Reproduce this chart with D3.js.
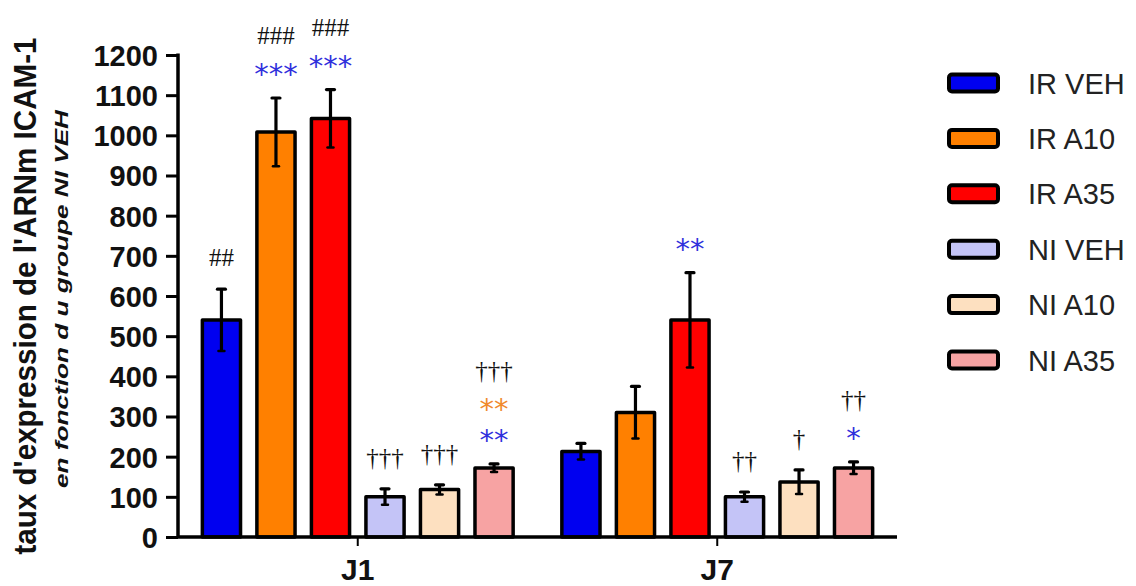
<!DOCTYPE html>
<html>
<head>
<meta charset="utf-8">
<script src="https://cdn.jsdelivr.net/npm/d3@7"></script>
<style>
  html, body { margin: 0; padding: 0; background: #fff; }
  svg { display: block; }
</style>
</head>
<body>
<svg id="chart" width="1136" height="586"></svg>
<script>
// ICAM-1 mRNA expression, relative to the NI VEH group
const groups = ["J1", "J7"];
const series = ["IR VEH", "IR A10", "IR A35", "NI VEH", "NI A10", "NI A35"];
const seriesColors = ["#0000f0", "#ff8000", "#ff0000", "#c4c4f7", "#fde0c0", "#f7a3a3"];

const meanJ1 = [540, 1008, 1042, 100, 118, 172];
const meanJ7 = [213, 310, 540, 100, 137, 172];
const semJ1 = [77, 85, 72, 20, 12, 10];
const semJ7 = [20, 65, 118, 12, 30, 15];

const yTicks = [0, 100, 200, 300, 400, 500, 600, 700, 800, 900, 1000, 1100, 1200];

// significance marks stacked above each bar, listed from bottom to top: [text, kind]
const marksJ1 = [
  [["##", "k"]],
  [["***", "b"], ["###", "k"]],
  [["***", "b"], ["###", "k"]],
  [["†††", "k"]],
  [["†††", "k"]],
  [["**", "b"], ["**", "o"], ["†††", "k"]]
];
const marksJ7 = [
  [],
  [],
  [["**", "b"]],
  [["††", "k"]],
  [["†", "k"]],
  [["*", "b"], ["††", "k"]]
];
const markColors = { k: "#111", b: "#3030dc", o: "#f08a2c" };

const means = [meanJ1, meanJ7];
const sems = [semJ1, semJ7];
const marks = [marksJ1, marksJ7];

const rows = [];
groups.forEach((g, gi) => {
  series.forEach((s, si) => {
    rows.push({ group: g, series: s, si, mean: means[gi][si], sem: sems[gi][si], marks: marks[gi][si] });
  });
});

const svg = d3.select("#chart");
const plot = { left: 178, right: 897, top: 55, bottom: 537 };

const y = d3.scaleLinear().domain([0, 1200]).range([plot.bottom, plot.top]);
const x0 = d3.scaleBand().domain(groups).range([plot.left, plot.right]).paddingInner(0.09).paddingOuter(0.045);
const x1 = d3.scaleBand().domain(series).range([0, x0.bandwidth()]).paddingInner(0.3).paddingOuter(0.15);
const color = d3.scaleOrdinal().domain(series).range(seriesColors);

// bars
const bar = svg.append("g").selectAll("g").data(rows).join("g")
  .attr("transform", d => `translate(${x0(d.group) + x1(d.series)},0)`);

bar.append("rect")
  .attr("x", 0)
  .attr("width", x1.bandwidth())
  .attr("y", d => y(d.mean))
  .attr("height", d => y(0) - y(d.mean))
  .attr("fill", d => color(d.series))
  .attr("stroke", "#000")
  .attr("stroke-width", 3.5)
  .attr("stroke-linejoin", "round");

// error bars
const cx = x1.bandwidth() / 2;
bar.append("line")
  .attr("x1", cx).attr("x2", cx)
  .attr("y1", d => y(d.mean - d.sem))
  .attr("y2", d => y(d.mean + d.sem))
  .attr("stroke", "#000").attr("stroke-width", 3.2);
bar.append("line")
  .attr("x1", cx - 4).attr("x2", cx + 4)
  .attr("y1", d => y(d.mean + d.sem))
  .attr("y2", d => y(d.mean + d.sem))
  .attr("stroke", "#000").attr("stroke-width", 3.2).attr("stroke-linecap", "round");
bar.append("line")
  .attr("x1", cx - 3).attr("x2", cx + 3)
  .attr("y1", d => y(d.mean - d.sem))
  .attr("y2", d => y(d.mean - d.sem))
  .attr("stroke", "#000").attr("stroke-width", 2.5).attr("stroke-linecap", "round");

// significance marks
bar.each(function(d) {
  const top = y(d.mean + d.sem);
  d3.select(this).selectAll("text.mark").data(d.marks).join("text")
    .attr("class", "mark")
    .attr("x", cx)
    .attr("y", (m, i) => {
      const centre = top - 31 - i * 31;
      return m[1] === "k" ? centre + 8 : centre + 17;
    })
    .attr("text-anchor", "middle")
    .attr("fill", m => markColors[m[1]])
    .style("font-family", m => m[1] === "k" ? "'Liberation Serif', serif" : "'DejaVu Sans', sans-serif")
    .style("font-size", m => m[1] === "k" ? "25px" : "29px")
    .text(m => m[0]);
});

// y axis
const yAxis = svg.append("g")
  .attr("transform", `translate(${plot.left},0)`)
  .call(d3.axisLeft(y).tickValues(yTicks).tickFormat(d3.format("d")).tickSize(12).tickPadding(8).tickSizeOuter(0));
yAxis.select(".domain").attr("stroke", "#000").attr("stroke-width", 3.5)
  .attr("d", `M0,${plot.top - 1.5}V${plot.bottom}`);
yAxis.selectAll(".tick line").attr("stroke", "#000").attr("stroke-width", 3);
yAxis.selectAll(".tick text")
  .attr("fill", "#111")
  .style("font-family", "'Liberation Sans', Arial, sans-serif")
  .style("font-weight", "bold")
  .style("font-size", "29px")
  .attr("dy", "0.36em");

// x axis
const xAxis = svg.append("g")
  .attr("transform", `translate(0,${plot.bottom})`)
  .call(d3.axisBottom(x0).tickSize(9).tickPadding(8).tickSizeOuter(0));
xAxis.select(".domain").attr("stroke", "#000").attr("stroke-width", 3.5)
  .attr("d", `M${plot.left},0H${plot.right}`);
xAxis.selectAll(".tick line").attr("stroke", "#000").attr("stroke-width", 2);
xAxis.selectAll(".tick text")
  .attr("fill", "#111")
  .style("font-family", "'Liberation Sans', Arial, sans-serif")
  .style("font-weight", "bold")
  .style("font-size", "30px")
  .attr("dy", "0.85em");

// y axis titles
svg.append("text")
  .attr("transform", "translate(36,296) rotate(-90)")
  .attr("text-anchor", "middle")
  .attr("textLength", 517)
  .attr("lengthAdjust", "spacingAndGlyphs")
  .attr("fill", "#111")
  .style("font-family", "'Liberation Sans', Arial, sans-serif")
  .style("font-weight", "bold")
  .style("font-size", "31px")
  .text("taux d'expression de l'ARNm ICAM-1");

svg.append("text")
  .attr("transform", "translate(68,299) rotate(-90)")
  .attr("text-anchor", "middle")
  .attr("textLength", 378)
  .attr("lengthAdjust", "spacingAndGlyphs")
  .attr("fill", "#111")
  .style("font-family", "'Liberation Sans', Arial, sans-serif")
  .style("font-weight", "bold")
  .style("font-style", "italic")
  .style("font-size", "19px")
  .text("en fonction d u groupe NI VEH");

// legend
const legend = svg.append("g").selectAll("g").data(series).join("g")
  .attr("transform", (d, i) => `translate(949,${83 + i * 55.4})`);
legend.append("rect")
  .attr("x", 0).attr("y", -8.5)
  .attr("width", 49).attr("height", 17)
  .attr("rx", 3)
  .attr("fill", d => color(d))
  .attr("stroke", "#000").attr("stroke-width", 4);
legend.append("text")
  .attr("x", 79).attr("y", 10.5)
  .attr("fill", "#222")
  .style("font-family", "'Liberation Sans', Arial, sans-serif")
  .style("font-size", "29px")
  .text(d => d);
</script>
</body>
</html>
